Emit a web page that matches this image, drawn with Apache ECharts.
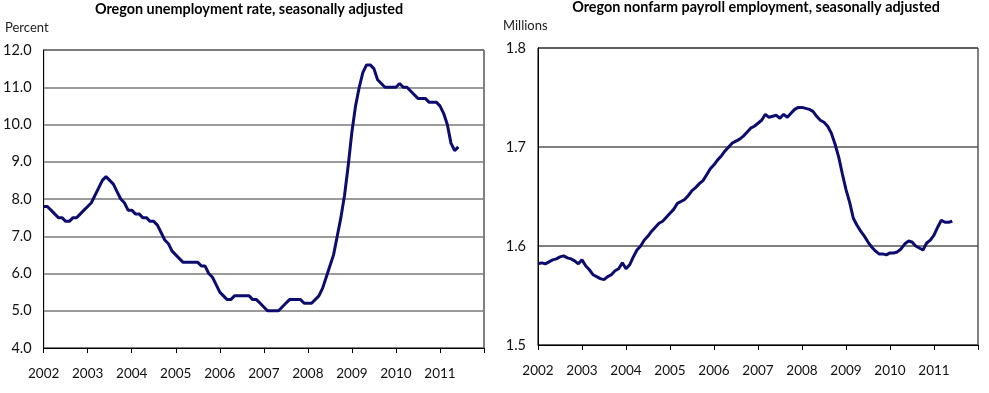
<!DOCTYPE html>
<html>
<head>
<meta charset="utf-8">
<script src="https://cdn.jsdelivr.net/npm/echarts@6/dist/echarts.min.js"></script>
<style>
html,body{margin:0;padding:0;background:#fff;}
#c{width:989px;height:393px;}
</style>
</head>
<body>
<div id="c"></div>
<script>
// Monthly observations, Jan 2002 .. Jun 2011
const startYear = 2002;
const monthCount = 114;
const months = [];
for (let i = 0; i < monthCount; i++) {
  const y = startYear + Math.floor(i / 12);
  const m = (i % 12) + 1;
  months.push(y + '-' + (m < 10 ? '0' + m : m));
}
const yearTicks = ['2002','2003','2004','2005','2006','2007','2008','2009','2010','2011'];

const unemploymentRate = [
  7.8, 7.8, 7.7, 7.6, 7.5, 7.5, 7.4, 7.4, 7.5, 7.5, 7.6, 7.7,
  7.8, 7.9, 8.1, 8.3, 8.5, 8.6, 8.5, 8.4, 8.2, 8.0, 7.9, 7.7,
  7.7, 7.6, 7.6, 7.5, 7.5, 7.4, 7.4, 7.3, 7.1, 6.9, 6.8, 6.6,
  6.5, 6.4, 6.3, 6.3, 6.3, 6.3, 6.3, 6.2, 6.2, 6.0, 5.9, 5.7,
  5.5, 5.4, 5.3, 5.3, 5.4, 5.4, 5.4, 5.4, 5.4, 5.3, 5.3, 5.2,
  5.1, 5.0, 5.0, 5.0, 5.0, 5.1, 5.2, 5.3, 5.3, 5.3, 5.3, 5.2,
  5.2, 5.2, 5.3, 5.4, 5.6, 5.9, 6.2, 6.5, 7.0, 7.5, 8.1, 8.9,
  9.8, 10.5, 11.0, 11.4, 11.6, 11.6, 11.5, 11.2, 11.1, 11.0, 11.0, 11.0,
  11.0, 11.1, 11.0, 11.0, 10.9, 10.8, 10.7, 10.7, 10.7, 10.6, 10.6, 10.6,
  10.5, 10.3, 10.0, 9.5, 9.3, 9.4
];

const payrollMillions = [
  1.582, 1.583, 1.582, 1.584, 1.586, 1.587, 1.589, 1.590, 1.588, 1.587, 1.585, 1.582,
  1.586, 1.580, 1.576, 1.571, 1.569, 1.567, 1.566, 1.569, 1.571, 1.575, 1.577, 1.583,
  1.577, 1.581, 1.589, 1.596, 1.600, 1.606, 1.610, 1.615, 1.619, 1.623, 1.625, 1.629,
  1.633, 1.637, 1.643, 1.645, 1.647, 1.651, 1.656, 1.659, 1.663, 1.666, 1.672, 1.678,
  1.682, 1.687, 1.691, 1.696, 1.700, 1.704, 1.706, 1.708, 1.711, 1.715, 1.719, 1.721,
  1.724, 1.727, 1.733, 1.730, 1.731, 1.732, 1.729, 1.733, 1.730, 1.734, 1.738, 1.740,
  1.740, 1.739, 1.738, 1.736, 1.731, 1.727, 1.725, 1.721, 1.714, 1.703, 1.690, 1.673,
  1.657, 1.644, 1.628, 1.621, 1.615, 1.610, 1.604, 1.599, 1.595, 1.592, 1.592, 1.591,
  1.593, 1.593, 1.594, 1.597, 1.602, 1.605, 1.604, 1.600, 1.598, 1.596, 1.603, 1.606,
  1.611, 1.619, 1.626, 1.624, 1.624, 1.625
];

function toPairs(vals) {
  return vals.map((v, i) => {
    const parts = months[i].split('-');
    return [Number(parts[0]) + (Number(parts[1]) - 1) / 12, v];
  });
}

const FONT = 'Lato';
const lineColor = '#0c0c6e';

function xAxisCfg(gridIndex) {
  return {
    type: 'value', gridIndex: gridIndex, min: 2002, max: 2012, interval: 1,
    axisLine: { show: true, onZero: false, lineStyle: { color: '#000', width: 1 } },
    axisTick: { show: true, inside: false, length: 5, lineStyle: { color: '#000' } },
    axisLabel: {
      margin: 19, color: '#111', fontFamily: FONT, fontSize: 13.5,
      formatter: function (v) { const s = String(Math.round(v)); return yearTicks.indexOf(s) >= 0 ? s : ''; }
    },
    splitLine: { show: false }
  };
}

const option = {
  animation: false,
  backgroundColor: '#fff',
  title: [
    { text: 'Oregon unemployment rate, seasonally adjusted', left: 249, textAlign: 'center', top: 2, padding: 0,
      textStyle: { fontFamily: FONT, fontSize: 14.4, fontWeight: 'bold', color: '#000' } },
    { text: 'Oregon nonfarm payroll employment, seasonally adjusted', left: 756, textAlign: 'center', top: 0, padding: 0,
      textStyle: { fontFamily: FONT, fontSize: 14.4, fontWeight: 'bold', color: '#000' } },
    { text: 'Percent', left: 5, top: 21, padding: 0,
      textStyle: { fontFamily: FONT, fontSize: 13, fontWeight: 'normal', color: '#222' } },
    { text: 'Millions', left: 503, top: 19, padding: 0,
      textStyle: { fontFamily: FONT, fontSize: 13, fontWeight: 'normal', color: '#222' } }
  ],
  grid: [
    { left: 43, top: 50, width: 441, height: 298, show: true, borderColor: '#000', borderWidth: 1, containLabel: false },
    { left: 538, top: 48, width: 440, height: 297, show: true, borderColor: '#000', borderWidth: 1, containLabel: false }
  ],
  xAxis: [xAxisCfg(0), xAxisCfg(1)],
  yAxis: [
    { type: 'value', gridIndex: 0, min: 4, max: 12, interval: 1,
      axisLine: { show: true, lineStyle: { color: '#000' } }, axisTick: { show: false },
      axisLabel: { margin: 12, color: '#111', fontFamily: FONT, fontSize: 14.5, formatter: v => v.toFixed(1) },
      splitLine: { show: true, lineStyle: { color: '#7a7a7a', width: 1.5 } } },
    { type: 'value', gridIndex: 1, min: 1.5, max: 1.8, interval: 0.1,
      axisLine: { show: true, lineStyle: { color: '#000' } }, axisTick: { show: false },
      axisLabel: { margin: 12, color: '#111', fontFamily: FONT, fontSize: 14.5, formatter: v => v.toFixed(1) },
      splitLine: { show: true, lineStyle: { color: '#555', width: 1.5 } } }
  ],
  series: [
    { type: 'line', xAxisIndex: 0, yAxisIndex: 0, data: toPairs(unemploymentRate), showSymbol: false,
      lineStyle: { color: lineColor, width: 3 }, itemStyle: { color: lineColor } },
    { type: 'line', xAxisIndex: 1, yAxisIndex: 1, data: toPairs(payrollMillions), showSymbol: false,
      lineStyle: { color: lineColor, width: 3 }, itemStyle: { color: lineColor } }
  ]
};

const chart = echarts.init(document.getElementById('c'), null, { renderer: 'canvas' });
chart.setOption(option);
</script>
</body>
</html>
